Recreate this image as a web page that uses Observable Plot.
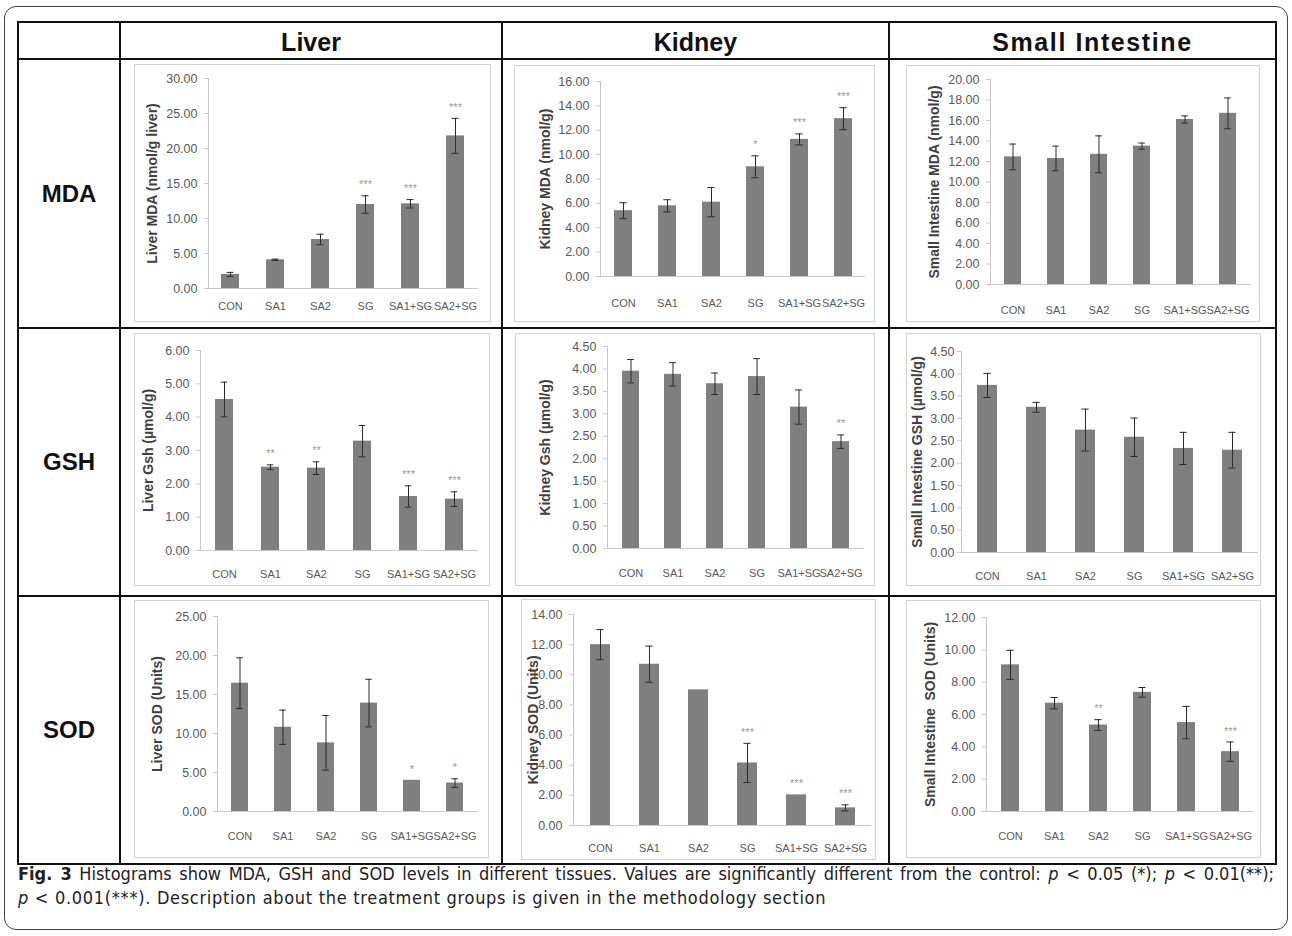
<!DOCTYPE html>
<html>
<head>
<meta charset="utf-8">
<script src="https://cdn.jsdelivr.net/npm/d3@7"></script>
<script src="https://cdn.jsdelivr.net/npm/@observablehq/plot@0.6"></script>
<style>
  body { margin: 0; background: #fff; }
  #page { position: relative; width: 1292px; height: 936px; background: #fff; overflow: hidden; font-family: "Liberation Sans", Arial, sans-serif; }
  .abs { position: absolute; }
  .hl { position: absolute; background: #111; }
  .vl { position: absolute; background: #111; }
  .hdr { position: absolute; font-weight: bold; font-size: 25px; color: #111; text-align: center; line-height: 30px; }
  .row { position: absolute; font-weight: bold; font-size: 24px; color: #111; text-align: center; line-height: 30px; }
  .frame { position: absolute; border: 1px solid #d2d2d2; box-sizing: border-box; pointer-events: none; }
  .cap { position: absolute; left: 18px; width: 1256px; font-family: "DejaVu Sans Condensed", "Liberation Sans Narrow", "Liberation Sans", sans-serif; font-stretch: condensed; font-size: 18px; letter-spacing: 0.7px; color: #222; white-space: nowrap; }
  .cap.j { text-align: justify; text-align-last: justify; white-space: normal; letter-spacing: 0; }
</style>
</head>
<body>
<div id="page">
  <div class="abs" style="left:4px;top:6px;width:1284px;height:924px;border:1.5px solid #444;border-radius:12px;box-sizing:border-box;"></div>
</div>
<script>
// ---------------- data ----------------
const categories = ["CON", "SA1", "SA2", "SG", "SA1+SG", "SA2+SG"];
const columnHeaders = ["Liver", "Kidney", "Small Intestine"];
const rowHeaders = ["MDA", "GSH", "SOD"];

const liverMDA = [2.0, 4.1, 7.0, 12.0, 12.1, 21.8];
const liverMDAErr = [0.3, 0.1, 0.75, 1.25, 0.6, 2.5];
const liverMDASig = ["", "", "", "***", "***", "***"];
const liverMDATicks = [0, 5, 10, 15, 20, 25, 30];

const kidneyMDA = [5.4, 5.8, 6.1, 9.0, 11.25, 12.95];
const kidneyMDAErr = [0.65, 0.5, 1.2, 0.9, 0.45, 0.9];
const kidneyMDASig = ["", "", "", "*", "***", "***"];
const kidneyMDATicks = [0, 2, 4, 6, 8, 10, 12, 14, 16];

const intestineMDA = [12.45, 12.3, 12.7, 13.5, 16.1, 16.7];
const intestineMDAErr = [1.25, 1.2, 1.8, 0.3, 0.35, 1.5];
const intestineMDASig = ["", "", "", "", "", ""];
const intestineMDATicks = [0, 2, 4, 6, 8, 10, 12, 14, 16, 18, 20];

const liverGSH = [4.53, 2.5, 2.47, 3.28, 1.62, 1.54];
const liverGSHErr = [0.52, 0.07, 0.19, 0.47, 0.32, 0.22];
const liverGSHSig = ["", "**", "**", "", "***", "***"];
const liverGSHTicks = [0, 1, 2, 3, 4, 5, 6];

const kidneyGSH = [3.95, 3.88, 3.67, 3.83, 3.15, 2.38];
const kidneyGSHErr = [0.26, 0.26, 0.24, 0.4, 0.38, 0.15];
const kidneyGSHSig = ["", "", "", "", "", "**"];
const kidneyGSHTicks = [0, 0.5, 1, 1.5, 2, 2.5, 3, 3.5, 4, 4.5];

const intestineGSH = [3.74, 3.25, 2.74, 2.58, 2.33, 2.29];
const intestineGSHErr = [0.27, 0.11, 0.47, 0.43, 0.36, 0.4];
const intestineGSHSig = ["", "", "", "", "", ""];
const intestineGSHTicks = [0, 0.5, 1, 1.5, 2, 2.5, 3, 3.5, 4, 4.5];

const liverSOD = [16.45, 10.8, 8.8, 13.9, 4.0, 3.65];
const liverSODErr = [3.25, 2.2, 3.5, 3.05, 0, 0.55];
const liverSODSig = ["", "", "", "", "*", "*"];
const liverSODTicks = [0, 5, 10, 15, 20, 25];

const kidneySOD = [12.0, 10.7, 9.0, 4.15, 2.03, 1.17];
const kidneySODErr = [1.0, 1.2, 0, 1.3, 0, 0.2];
const kidneySODSig = ["", "", "", "***", "***", "***"];
const kidneySODTicks = [0, 2, 4, 6, 8, 10, 12, 14];

const intestineSOD = [9.07, 6.7, 5.35, 7.37, 5.5, 3.7];
const intestineSODErr = [0.9, 0.35, 0.33, 0.3, 1.0, 0.6];
const intestineSODSig = ["", "", "**", "", "", "***"];
const intestineSODTicks = [0, 2, 4, 6, 8, 10, 12];

const yTitles = [
  "Liver MDA (nmol/g liver)", "Kidney MDA (nmol/g)", "Small Intestine MDA (nmol/g)",
  "Liver Gsh (\u00b5mol/g)", "Kidney Gsh (\u00b5mol/g)", "Small Intestine GSH (\u00b5mol/g)",
  "Liver SOD (Units)", "Kidney SOD (Units)", "Small Intestine  SOD (Units)"
];

// ---------------- layout (positions only) ----------------
// frame: [left, top, right, bottom]; axis: x of y-axis; right: plot right; top: y of max tick; zero: y of 0
const layout = [
  {frame: [134, 64, 491, 322], axis: 208, right: 478, top: 78, zero: 288, xpad: 14, titleDx: -56, tickPad: 7},
  {frame: [514, 65, 875, 322], axis: 600, right: 865, top: 81, zero: 276, xpad: 23, titleDx: -55, tickPad: 7},
  {frame: [906, 65, 1260, 322], axis: 990, right: 1251, top: 79, zero: 284, xpad: 22, titleDx: -56, tickPad: 7},
  {frame: [134, 333, 490, 586], axis: 200, right: 478, top: 350, zero: 550, xpad: 20, titleDx: -52, tickPad: 7},
  {frame: [515, 333, 875, 586], axis: 607, right: 864, top: 346, zero: 548, xpad: 21, titleDx: -62, tickPad: 7},
  {frame: [906, 333, 1261, 586], axis: 961, right: 1258, top: 351, zero: 552, xpad: 20, titleDx: -44, tickPad: 3},
  {frame: [134, 600, 489, 858], axis: 217, right: 478, top: 616, zero: 811, xpad: 21, titleDx: -60, tickPad: 7},
  {frame: [521, 599, 876, 860], axis: 573, right: 871, top: 614, zero: 825, xpad: 19, titleDx: -40, tickPad: 7},
  {frame: [906, 600, 1261, 858], axis: 986, right: 1253, top: 617, zero: 811, xpad: 21, titleDx: -56, tickPad: 7}
];

const panels = [
  [liverMDA, liverMDAErr, liverMDASig, liverMDATicks],
  [kidneyMDA, kidneyMDAErr, kidneyMDASig, kidneyMDATicks],
  [intestineMDA, intestineMDAErr, intestineMDASig, intestineMDATicks],
  [liverGSH, liverGSHErr, liverGSHSig, liverGSHTicks],
  [kidneyGSH, kidneyGSHErr, kidneyGSHSig, kidneyGSHTicks],
  [intestineGSH, intestineGSHErr, intestineGSHSig, intestineGSHTicks],
  [liverSOD, liverSODErr, liverSODSig, liverSODTicks],
  [kidneySOD, kidneySODErr, kidneySODSig, kidneySODTicks],
  [intestineSOD, intestineSODErr, intestineSODSig, intestineSODTicks]
];

const page = document.getElementById("page");
function add(cls, style, html) {
  const d = document.createElement("div");
  d.className = cls;
  d.setAttribute("style", style);
  if (html != null) d.innerHTML = html;
  page.appendChild(d);
  return d;
}

// table lines
const hY = [22, 59, 328, 596, 864];
const vX = [18, 120, 502, 889, 1276];
hY.forEach((y) => add("hl", `left:${vX[0] - 1}px;top:${y - 1}px;width:${vX[4] - vX[0] + 2}px;height:2px;`));
vX.forEach((x) => add("vl", `left:${x - 1}px;top:${hY[0] - 1}px;width:2px;height:${hY[4] - hY[0] + 2}px;`));

// headers
const hdrShift = [0, 0, 10];
const hdrSpacing = [0, 0, 1.6];
columnHeaders.forEach((t, i) => add("hdr",
  `left:${vX[i + 1] + hdrShift[i]}px;width:${vX[i + 2] - vX[i + 1]}px;top:${(hY[0] + hY[1]) / 2 - 14}px;letter-spacing:${hdrSpacing[i]}px;`, t));
rowHeaders.forEach((t, i) => add("row", `left:${vX[0]}px;width:${vX[1] - vX[0]}px;top:${(hY[i + 1] + hY[i + 2]) / 2 - 15}px;`, t));

// charts
panels.forEach(([vals, errs, sigs, ticks], k) => {
  const cfg = layout[k];
  const [fl, ft, fr, fb] = cfg.frame;
  const W = fr - fl, H = fb - ft;
  const data = categories.map((c, i) => ({cat: c, v: vals[i], e: errs[i], s: sigs[i]}));
  const withErr = data.filter(d => d.e > 0);
  const step = (cfg.right - cfg.axis) / categories.length;
  const capInset = Math.max(0, (step * 0.4 - 7) / 2);
  const svg = Plot.plot({
    width: W,
    height: H,
    marginLeft: cfg.axis - fl,
    marginRight: fr - cfg.right,
    marginTop: cfg.top - ft,
    marginBottom: fb - cfg.zero,
    x: {domain: categories, paddingInner: 0.6, paddingOuter: 0.3, label: null},
    y: {domain: [0, ticks[ticks.length - 1]], label: null},
    style: {fontFamily: "'Liberation Sans', Arial, sans-serif", fontSize: "12px", background: "transparent", color: "#595959", overflow: "visible"},
    marks: [
      Plot.barY(data, {x: "cat", y: "v", fill: "#7f7f7f"}),
      Plot.ruleY([0], {stroke: "#c8c8c8"}),
      Plot.frame({anchor: "left", stroke: "#c8c8c8"}),
      Plot.ruleX(withErr, {x: "cat", y1: d => d.v - d.e, y2: d => d.v + d.e, stroke: "#2b2b2b", strokeWidth: 1}),
      Plot.tickY(withErr, {x: "cat", y: d => d.v + d.e, stroke: "#2b2b2b", inset: capInset}),
      Plot.tickY(withErr, {x: "cat", y: d => d.v - d.e, stroke: "#2b2b2b", inset: capInset}),
      Plot.text(data.filter(d => d.s), {x: "cat", y: d => d.v + d.e, text: "s", dy: -11, fill: "#999", fontSize: 11}),
      Plot.axisY({ticks: ticks, tickFormat: d => d.toFixed(2), tickSize: 4, tickPadding: cfg.tickPad, stroke: "#c8c8c8", fill: "#595959", fontSize: 12.5, label: null}),
      Plot.axisX({tickSize: 0, tickPadding: cfg.xpad, fill: "#595959", fontSize: 11, label: null}),
      Plot.text([yTitles[k]], {frameAnchor: "left", textAnchor: "middle", lineAnchor: "middle", rotate: -90, dx: cfg.titleDx, text: d => d, fontWeight: "bold", fontSize: 14, fill: "#404040"})
    ]
  });
  const holder = add("abs", `left:${fl}px;top:${ft}px;width:${W}px;height:${H}px;`);
  holder.appendChild(svg);
  add("frame", `left:${fl}px;top:${ft}px;width:${W}px;height:${H}px;`);
});

// caption
add("cap j", "top:862px;line-height:24px;",
  "<b>Fig. 3</b> Histograms show MDA, GSH and SOD levels in different tissues. Values are significantly different from the control: <i>p</i> &lt; 0.05 (*); <i>p</i> &lt; 0.01(**);");
add("cap", "top:886px;line-height:24px;",
  "<i>p</i> &lt; 0.001(***). Description about the treatment groups is given in the methodology section");
</script>
</body>
</html>
